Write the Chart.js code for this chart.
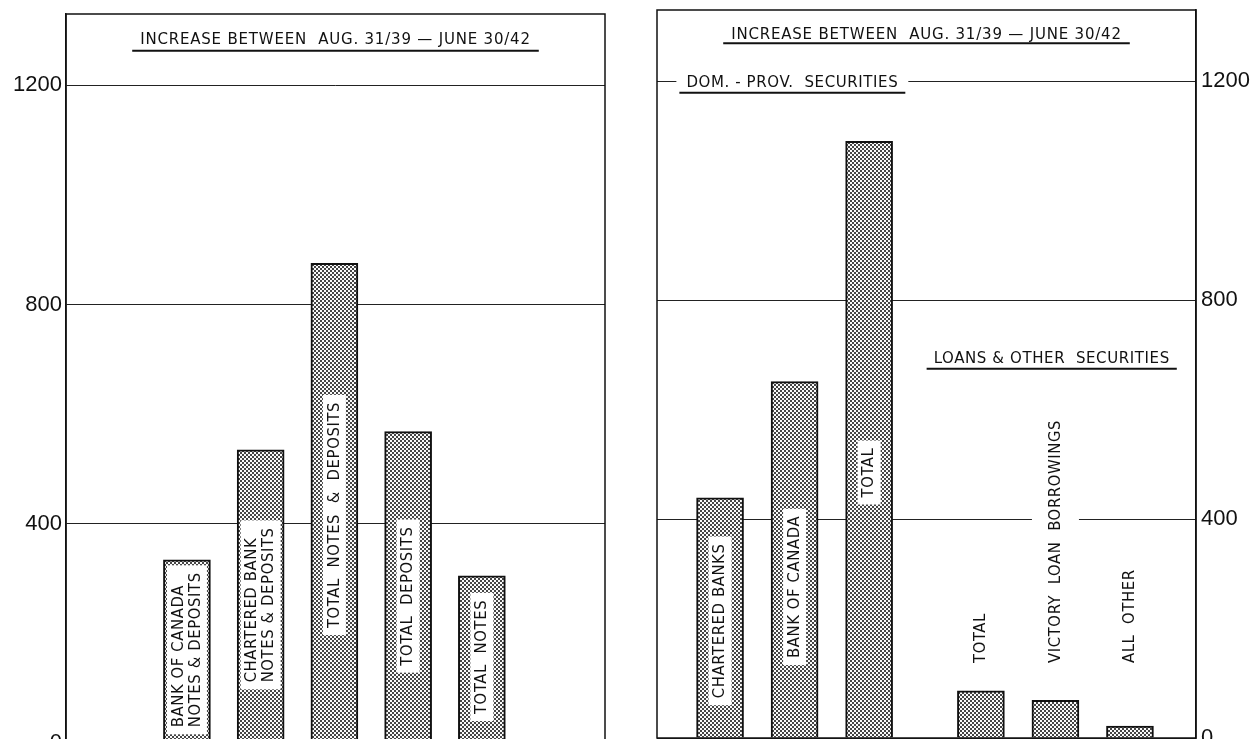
<!DOCTYPE html>
<html>
<head>
<meta charset="utf-8">
<script src="https://cdn.jsdelivr.net/npm/chart.js@4.4.0/dist/chart.umd.min.js"></script>
<style>
  body { margin: 0; background: #fff; overflow: hidden; width: 1251px; height: 739px; position: relative; }
  canvas { position: absolute; top: 0; }
  #left { left: 0; }
  #right { left: 630px; }
</style>
</head>
<body>
<canvas id="left" width="630" height="760"></canvas>
<canvas id="right" width="621" height="760"></canvas>
<script>
// values (millions)
const titleText = 'INCREASE BETWEEN  AUG. 31/39 \u2014 JUNE 30/42';
const yTicks = [0, 400, 800, 1200];
const yMax = 1330;

const leftNames = [
  ['BANK OF CANADA', 'NOTES & DEPOSITS'],
  ['CHARTERED BANK', 'NOTES & DEPOSITS'],
  ['TOTAL  NOTES  &  DEPOSITS'],
  ['TOTAL  DEPOSITS'],
  ['TOTAL  NOTES']
];
const leftSlots = [1, 2, 3, 4, 5];
const leftValues = [334, 535, 875, 568, 305];

const rightNames = [
  ['CHARTERED BANKS'],
  ['BANK OF CANADA'],
  ['TOTAL'],
  ['TOTAL'],
  ['VICTORY  LOAN  BORROWINGS'],
  ['ALL  OTHER']
];
const rightSlots = [1, 2, 3, 4.5, 5.5, 6.5];
const rightValues = [439, 651, 1090, 86, 69, 22];

const groupNames = ['DOM. - PROV.  SECURITIES', 'LOANS & OTHER  SECURITIES'];

// where the lettering sits (value units on the y axis)
const leftLabelAt = [170, 252, 416, 268, 157];
const rightLabelAt = [214, 276, 485, 137, 137, 137];
const rightLabelBoxed = [true, true, true, false, false, false];

const ink = '#111';
const letterFont = '16.5px "DejaVu Sans Condensed", "DejaVu Sans", sans-serif';
const headFont = '15px "DejaVu Sans", sans-serif';
const tickFont = { family: '"Liberation Sans", Arial, sans-serif', size: 22 };

function stipple() {
  const c = document.createElement('canvas');
  c.width = 4; c.height = 4;
  const g = c.getContext('2d');
  g.fillStyle = '#fafafa';
  g.fillRect(0, 0, 4, 4);
  g.fillStyle = '#454545';
  g.fillRect(0, 0, 2, 2);
  g.fillRect(2, 2, 2, 2);
  return g.createPattern(c, 'repeat');
}

const lettering = {
  id: 'lettering',
  afterDatasetsDraw(chart, args, opts) {
    const ctx = chart.ctx, a = chart.chartArea;
    const xs = chart.scales.x, ys = chart.scales.y;
    const bars = chart.getDatasetMeta(0).data;

    ctx.save();
    ctx.strokeStyle = ink;
    ctx.lineWidth = 1.5;
    ctx.strokeRect(a.left, a.top, a.right - a.left, a.bottom - a.top);

    opts.headings.forEach(h => {
      ctx.font = h.font;
      ctx.letterSpacing = h.spacing + 'px';
      const x = h.slot == null ? (a.left + a.right) / 2 : xs.getPixelForValue(h.slot);
      const y = ys.getPixelForValue(h.at);
      const w = ctx.measureText(h.text).width;
      if (h.erase) {
        ctx.fillStyle = '#fff';
        ctx.fillRect(x - w / 2 - h.erase, y - 4, w + 2 * h.erase, 8);
      }
      ctx.fillStyle = ink;
      ctx.textAlign = 'center';
      ctx.textBaseline = 'middle';
      ctx.fillText(h.text, x, y);
      ctx.lineWidth = 2;
      ctx.beginPath();
      ctx.moveTo(x - w / 2 - h.over, y + h.drop);
      ctx.lineTo(x + w / 2 + h.over, y + h.drop);
      ctx.stroke();
    });

    ctx.font = letterFont;
    ctx.letterSpacing = '0.6px';
    ctx.textBaseline = 'middle';
    ctx.textAlign = 'left';
    const lineH = 17;
    opts.labels.forEach((lab, i) => {
      const bar = bars[i];
      const len = Math.max(...lab.lines.map(t => ctx.measureText(t).width));
      const thick = lab.lines.length * lineH;
      ctx.save();
      ctx.translate(bar.x, ys.getPixelForValue(lab.at));
      ctx.rotate(-Math.PI / 2);
      ctx.fillStyle = '#fff';
      let start;
      if (lab.boxed) {
        ctx.fillRect(-len / 2 - 7, -thick / 2 - 3, len + 14, thick + 6);
        start = -len / 2;
      } else {
        ctx.fillRect(-4, -bar.width / 2, len + 8, bar.width);
        start = 0;
      }
      ctx.fillStyle = ink;
      lab.lines.forEach((t, k) => ctx.fillText(t, start, -thick / 2 + lineH * (k + 0.5)));
      ctx.restore();
    });
    ctx.restore();
  }
};

function makeChart(id, slots, values, xMin, xMax, side, pad, axisWidth, plugOpts) {
  return new Chart(document.getElementById(id), {
    type: 'bar',
    data: {
      datasets: [{
        data: values.map((v, i) => ({ x: slots[i], y: v })),
        backgroundColor: stipple(),
        borderColor: ink,
        borderWidth: 2,
        barThickness: 47
      }]
    },
    options: {
      responsive: false,
      animation: false,
      layout: { padding: pad },
      scales: {
        x: { type: 'linear', min: xMin, max: xMax, offset: false, display: false },
        y: {
          position: side,
          min: 0,
          max: yMax,
          afterBuildTicks: s => { s.ticks = yTicks.map(v => ({ value: v })); },
          afterFit: s => { s.width = axisWidth; s.paddingTop = 0; s.paddingBottom = 0; },
          grid: { color: '#222', lineWidth: 1, drawTicks: false },
          border: { display: true, color: ink, width: 1.5 },
          ticks: { color: ink, font: tickFont, padding: side === 'left' ? 4 : 5, callback: v => String(v) }
        }
      },
      plugins: {
        legend: { display: false },
        tooltip: { enabled: false },
        lettering: plugOpts
      }
    },
    plugins: [lettering]
  });
}

const titleHeading = { text: titleText, at: 1283, font: headFont, spacing: 0.8, over: 8, drop: 11 };

makeChart('left', leftSlots, leftValues, -0.64, 6.67, 'left',
  { left: 0, right: 25, top: 14, bottom: 17 }, 66, {
    headings: [titleHeading],
    labels: leftNames.map((lines, i) => ({ lines, at: leftLabelAt[i], boxed: true }))
  });

makeChart('right', rightSlots, rightValues, 0.154, 7.386, 'right',
  { left: 27, right: 0, top: 10, bottom: 22 }, 55, {
    headings: [
      Object.assign({}, titleHeading, { at: 1284, drop: 8 }),
      { text: groupNames[0], slot: 1.97, at: 1197, font: headFont, spacing: 0.6, over: 7, drop: 10, erase: 10 },
      { text: groupNames[1], slot: 5.45, at: 693, font: headFont, spacing: 0.6, over: 7, drop: 10 }
    ],
    labels: rightNames.map((lines, i) => ({ lines, at: rightLabelAt[i], boxed: rightLabelBoxed[i] }))
  });
</script>
</body>
</html>
